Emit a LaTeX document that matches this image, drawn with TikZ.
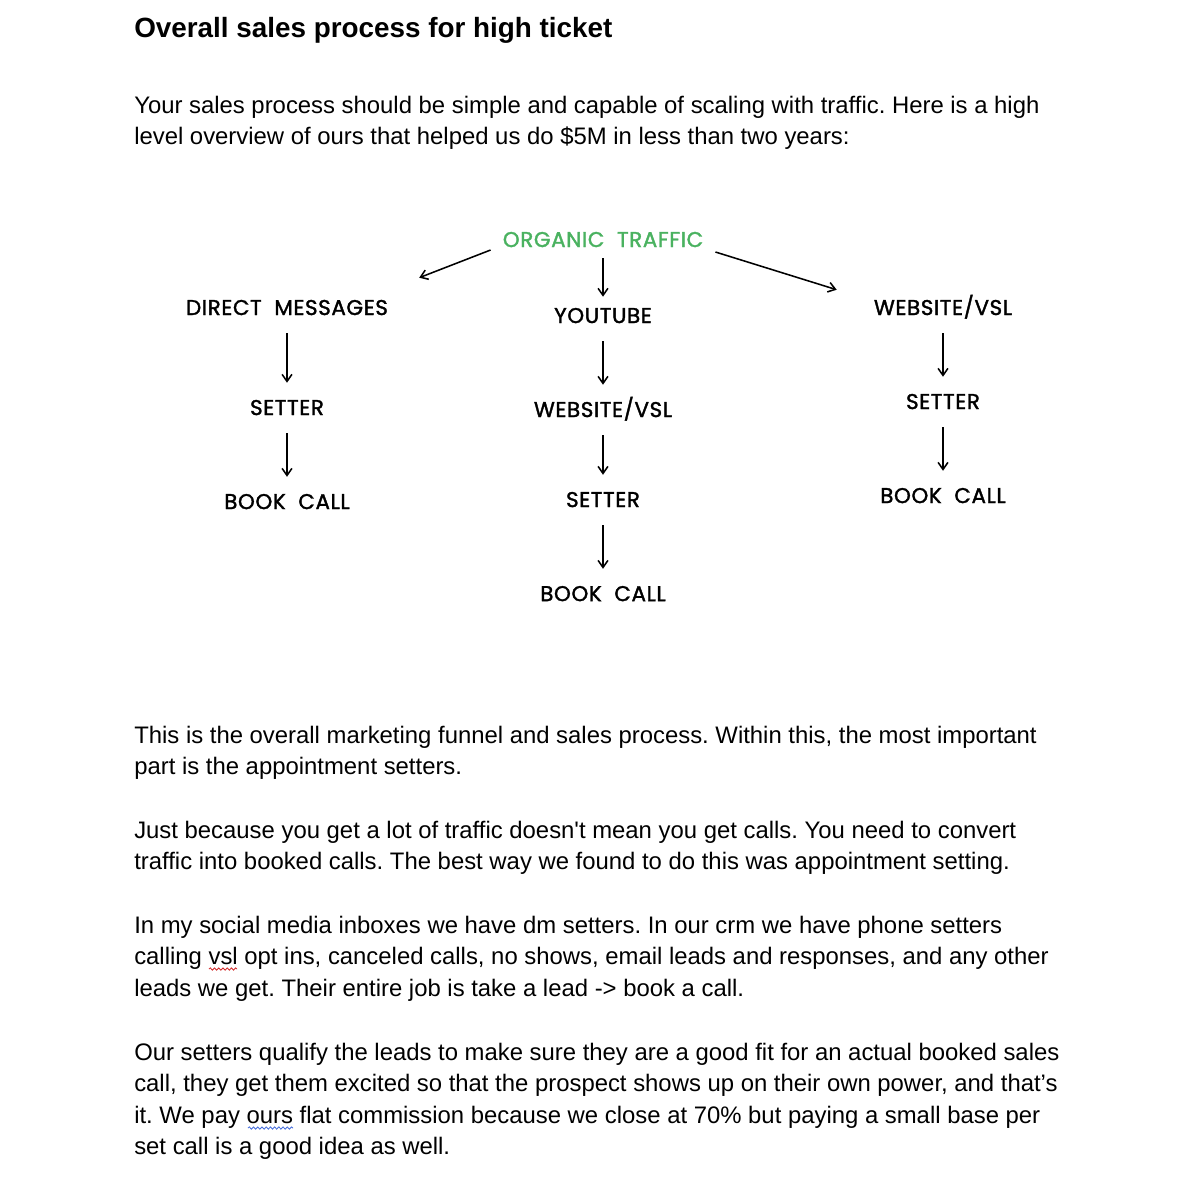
\documentclass[tikz,border=0pt]{standalone}
\usepackage{fontspec}
\setmainfont{Liberation Sans}[Ligatures=TeXOff]
\newfontfamily\sketchfont{Poppins}[LetterSpace=3, FakeBold=1.6, WordSpace=2]
\usepackage{xcolor}
\usetikzlibrary{arrows.meta, positioning, calc, decorations.pathmorphing}
\definecolor{trafficgreen}{RGB}{74,178,96}
\definecolor{spellred}{RGB}{210,40,40}
\definecolor{grammarblue}{RGB}{70,110,220}
\frenchspacing
\tikzset{
    heading/.style={anchor=base west, inner sep=0pt, font=\fontsize{19.8}{24}\selectfont\bfseries},
    para/.style={anchor=north west, inner sep=0pt, align=left, font=\fontsize{16.98}{22.4}\selectfont},
    % Funnel Styles
    stage/.style={inner sep=0pt, text height=0.35cm, text depth=0pt, font=\sketchfont\fontsize{15.2}{17}\selectfont},
    source/.style={stage, text=trafficgreen},
    arrow/.style={line width=1.1pt, -{Straight Barb[length=5pt,width=7pt]}},
    droparrow/.style={arrow, shorten <=0.45cm, shorten >=0.45cm},
    squiggle/.style={line width=0.6pt, decorate, decoration={snake, segment length=3pt, amplitude=0.8pt}}
}
\begin{document}
\begin{tikzpicture}[x=0.025cm, y=-0.025cm, node distance=2.35cm]
        \path [fill=white, use as bounding box] (0,0) rectangle (1200,1179);

        \node (title) [heading] at (134,37) {Overall sales process for high ticket};
        \node (intro) [para] at (134,91) {\strut Your sales process should be simple and capable of scaling with traffic. Here is a high\\
            level overview of ours that helped us do \$5M in less than two years:};

        \node (organic) [source] at (603,240) {ORGANIC TRAFFIC};
        \node (dm) [stage] at (287,308) {DIRECT MESSAGES};
        \node (yt) [stage] at (603,316) {YOUTUBE};
        \node (vslr) [stage] at (943,308) {WEBSITE/VSL};
        \node (dmset) [stage, below of=dm, yshift=-0.15cm] {SETTER};
        \node (dmbook) [stage, below of=dmset] {BOOK CALL};
        \node (ytvsl) [stage, below of=yt] {WEBSITE/VSL};
        \node (ytset) [stage, below of=ytvsl, yshift=0.1cm] {SETTER};
        \node (ytbook) [stage, below of=ytset] {BOOK CALL};
        \node (vslset) [stage, below of=vslr] {SETTER};
        \node (vslbook) [stage, below of=vslset] {BOOK CALL};

        \draw [arrow] ($(organic.west)+(-12,10)$) -- ($(dm.north east)+(31,-23)$);
        \draw [arrow, shorten <=0.28cm, shorten >=0.3cm] (organic) -- (yt);
        \draw [arrow] ($(organic.east)+(12,12)$) -- ($(vslr.north west)+(-37,-11)$);
        \draw [droparrow] (dm) -- (dmset);
        \draw [droparrow] (dmset) -- (dmbook);
        \draw [droparrow] (yt) -- (ytvsl);
        \draw [droparrow] (ytvsl) -- (ytset);
        \draw [droparrow] (ytset) -- (ytbook);
        \draw [droparrow] (vslr) -- (vslset);
        \draw [droparrow] (vslset) -- (vslbook);

        \node (funnel) [para] at (134,721) {\strut This is the overall marketing funnel and sales process. Within this, the most important\\
            part is the appointment setters.};
        \node (traffic) [para] at (134,816) {\strut Just because you get a lot of traffic doesn't mean you get calls. You need to convert\\
            traffic into booked calls. The best way we found to do this was appointment setting.};
        \node (inboxes) [para] at (134,911) {\strut In my social media inboxes we have dm setters. In our crm we have phone setters\\
            calling vsl opt ins, canceled calls, no shows, email leads and responses, and any other\\
            leads we get. Their entire job is take a lead -> book a call.};
        \node (qualify) [para] at (134,1038) {\strut Our setters qualify the leads to make sure they are a good fit for an actual booked sales\\
            call, they get them excited so that the prospect shows up on their own power, and that’s\\
            it. We pay ours flat commission because we close at 70\% but paying a small base per\\
            set call is a good idea as well.};

        \draw [squiggle, spellred] (209,969) -- (237,969);
        \draw [squiggle, grammarblue] (248,1128) -- (293,1128);
    \end{tikzpicture}
\end{document}
